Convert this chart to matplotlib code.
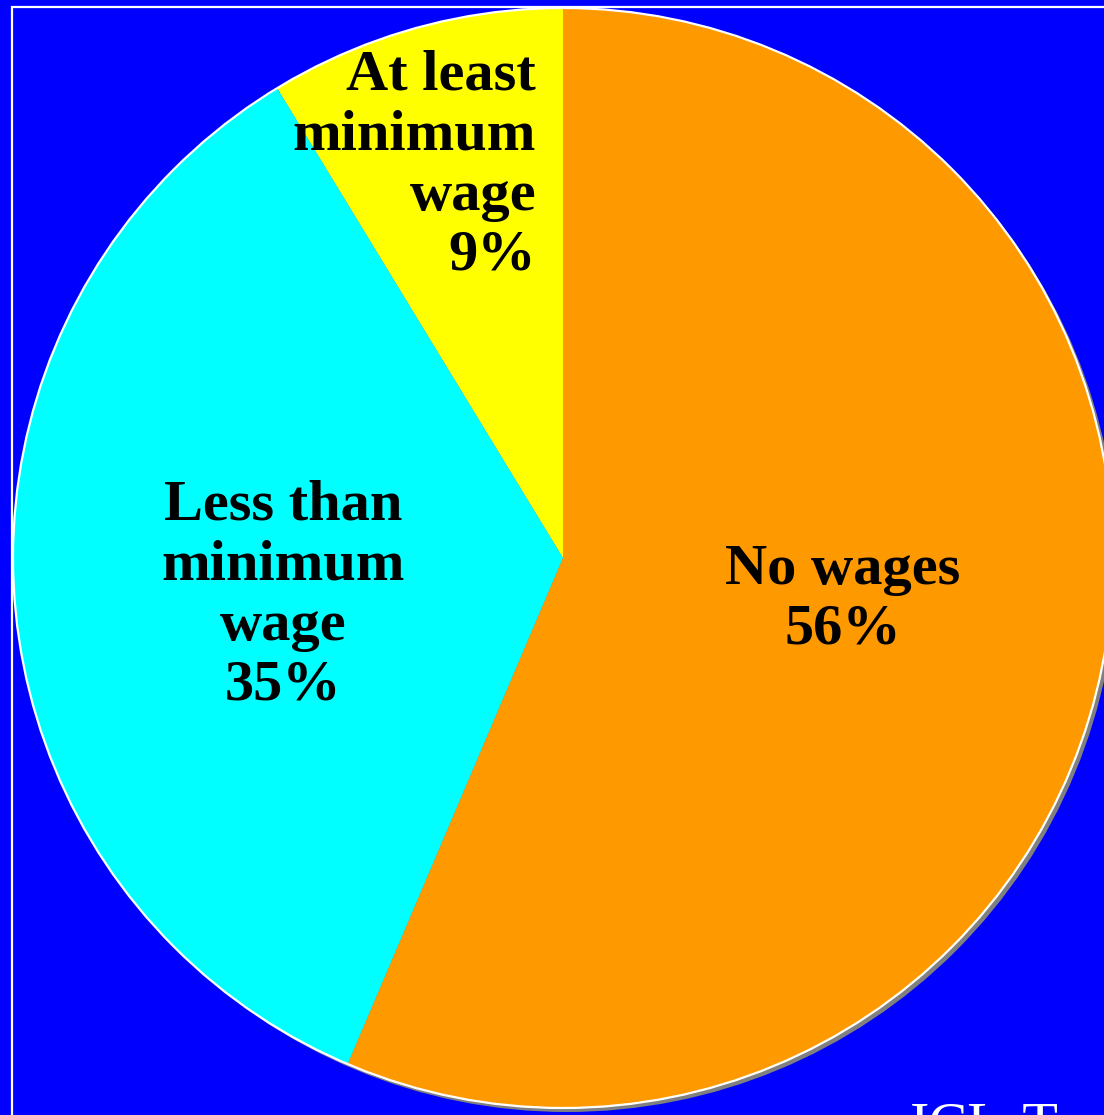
import matplotlib.pyplot as plt
from matplotlib.patches import Circle, Rectangle

# wage categories (share of workers, %), slice sizes
categories = ["At least\nminimum\nwage", "Less than\nminimum\nwage", "No wages"]
shares = [8.7, 34.9, 56.4]
pct_labels = ["9%", "35%", "56%"]
colors = ["#FFFF00", "#00FFFF", "#FF9900"]

# label anchors in pixel coords (x, y from top) and alignment
label_pos = [(536, 166), (283, 596), (843, 600)]
label_ha = ["right", "center", "center"]

W, H = 1104, 1115
fig = plt.figure(figsize=(W / 100, H / 100), dpi=100)
fig.patch.set_facecolor("#0000FF")
ax = fig.add_axes([0, 0, 1, 1])
ax.set_facecolor("#0000FF")

cx, cy, r = 563, H - 558, 550

# white frame
ax.add_patch(Rectangle((12, -10), W + 20, H - 7 + 10, fill=False,
                       edgecolor="white", lw=1.6, zorder=1))

# drop shadow
ax.add_patch(Circle((cx + 4, cy - 4), r, facecolor="#808080",
                    edgecolor="none", zorder=2))

wedges, _ = ax.pie(shares, colors=colors, startangle=90, counterclock=True,
                   center=(cx, cy), radius=r,
                   wedgeprops=dict(edgecolor="none"), frame=True)
for w in wedges:
    w.set_zorder(3)
ax.add_patch(Circle((cx, cy), r, fill=False, edgecolor="white",
                    lw=1.6, zorder=4))

for cat, pct, (x, y), ha in zip(categories, pct_labels, label_pos, label_ha):
    ax.text(x, H - y, f"{cat}\n{pct}", ha=ha, va="center", multialignment=ha,
            fontsize=42, fontweight="bold", family="Liberation Serif",
            linespacing=1.2, zorder=5)

ax.text(910, H - 1101, "ICL-T", ha="left", va="top", color="white",
        fontsize=42, family="Liberation Serif", zorder=5)

ax.set_xlim(0, W)
ax.set_ylim(0, H)
ax.set_aspect("auto")
ax.axis("off")

fig.savefig("out.png", dpi=100, facecolor=fig.get_facecolor())
